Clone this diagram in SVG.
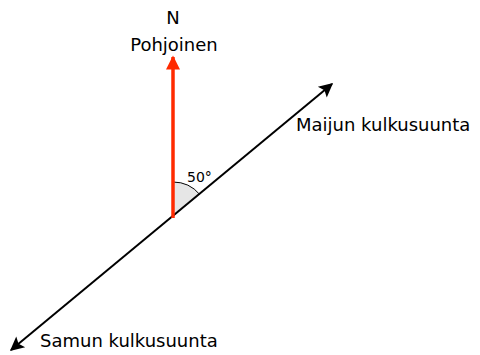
<svg xmlns="http://www.w3.org/2000/svg" width="480" height="355" viewBox="0 0 480 355">
<defs>
<style>
text{font-family:"DejaVu Sans","Noto Sans",sans-serif;fill:#000}
.lbl{font-size:18px}
.small{font-size:14px}
</style>
<marker id="ah" viewBox="0 0 10 10" refX="9" refY="5" markerWidth="8" markerHeight="7" markerUnits="strokeWidth" orient="auto-start-reverse">
<path d="M0,0 L10,5 L0,10 L2,5 z" fill="#000"/>
</marker>
<marker id="ahr" viewBox="0 0 10 10" refX="9" refY="5" markerWidth="6" markerHeight="4" markerUnits="strokeWidth" orient="auto">
<path d="M0,0 L10,5 L0,10 z" fill="#ff2a00"/>
</marker>
</defs>
<rect width="480" height="355" fill="#fff"/>
<g id="angle">
<path d="M173,217 L173,182 A35,35 0 0 1 199.8,194.5 Z" fill="#e6e6e6" stroke="none"/>
<path d="M173,182 A35,35 0 0 1 199.8,194.5" fill="none" stroke="#000" stroke-width="1"/>
<text class="small" x="187" y="182">50°</text>
</g>
<g id="connectors">
<line id="walk" x1="11" y1="350" x2="332" y2="84" stroke="#000" stroke-width="2" marker-start="url(#ah)" marker-end="url(#ah)"/>
<line id="north" x1="173" y1="218" x2="173" y2="57" stroke="#ff2a00" stroke-width="3.5" marker-end="url(#ahr)"/>
</g>
<g id="north-label">
<text class="lbl" x="173" y="24" text-anchor="middle">N</text>
<text class="lbl" x="174" y="51" text-anchor="middle">Pohjoinen</text>
</g>
<g id="maiju">
<text class="lbl" x="296" y="131">Maijun kulkusuunta</text>
</g>
<g id="samu">
<text class="lbl" x="40" y="347">Samun kulkusuunta</text>
</g>
</svg>
